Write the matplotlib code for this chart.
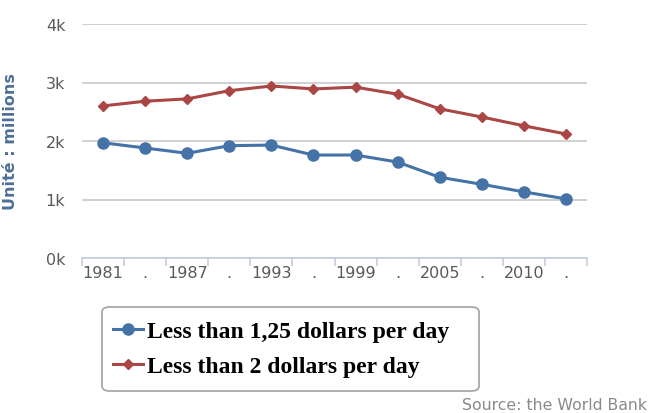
import numpy as np
from matplotlib import pyplot as plt
from matplotlib.patches import FancyBboxPatch

# data
years = ['1981', '.', '1987', '.', '1993', '.', '1999', '.', '2005', '.', '2010', '.']
below_125 = [1970, 1880, 1790, 1920, 1930, 1760, 1760, 1640, 1380, 1260, 1130, 1010]
below_2 = [2600, 2680, 2720, 2860, 2940, 2890, 2920, 2800, 2550, 2410, 2260, 2120]
yticks = [0, 1000, 2000, 3000, 4000]
ytick_labels = ['0k', '1k', '2k', '3k', '4k']

blue = '#4572a7'
red = '#aa4643'

W, H = 649, 414
fig = plt.figure(figsize=(W / 100, H / 100), dpi=100)
ax = fig.add_axes([82 / W, 1 - 259 / H, (587 - 82) / W, (259 - 25) / H])

x = np.arange(len(years))
ax.plot(x, below_125, color=blue, lw=2.2, marker='o', ms=8,
        label='Less than 1,25 dollars per day')
ax.plot(x, below_2, color=red, lw=2.2, marker='D', ms=5.5,
        label='Less than 2 dollars per day')

ax.set_xlim(-0.5, len(years) - 0.5)
ax.set_ylim(0, 4000)
ax.set_yticks(yticks)
ax.set_yticklabels(ytick_labels)
ax.set_xticks(x)
ax.set_xticklabels(years)
ax.set_xticks(np.arange(len(years) + 1) - 0.5, minor=True)

for s in ['top', 'right', 'left']:
    ax.spines[s].set_visible(False)
ax.spines['bottom'].set_color('#c0d0e0')
ax.spines['bottom'].set_linewidth(1.2)
ax.grid(axis='y', color='#c8c8c8', lw=1.2)
ax.set_axisbelow(True)

ax.tick_params(axis='y', length=0, pad=12, labelsize=11.5, labelcolor='#595959')
ax.tick_params(axis='x', which='major', length=0, pad=5, labelsize=11.5,
               labelcolor='#595959')
ax.tick_params(axis='x', which='minor', length=6, color='#c0d0e0', width=1.2)

ax.set_ylabel('Unité : millions', color='#4d6f96', fontsize=11.5,
              fontweight='bold')
ax.yaxis.set_label_coords(-64 / (587 - 82), 0.5)

# legend box drawn separately so it can be wider than the text
box = FancyBboxPatch((102 / W, 1 - 392 / H), (479 - 102) / W, (392 - 308) / H,
                     boxstyle='round,pad=0,rounding_size=0.012',
                     transform=fig.transFigure, facecolor='white',
                     edgecolor='#a8a8a8', lw=1.3)
fig.patches.append(box)
leg = fig.legend(loc='upper left', bbox_to_anchor=(108 / W, 1 - 317 / H),
                 borderaxespad=0,
                 prop={'family': 'Liberation Serif', 'size': 17, 'weight': 'bold'},
                 handlelength=1.3, handletextpad=0.15, frameon=False,
                 borderpad=0.2, labelspacing=0.55)

fig.text(647 / W, 1 - 406 / H, 'Source: the World Bank', ha='right', va='center',
         fontsize=11.3, color='#8a8a8a')

plt.savefig('out.png', dpi=100)
